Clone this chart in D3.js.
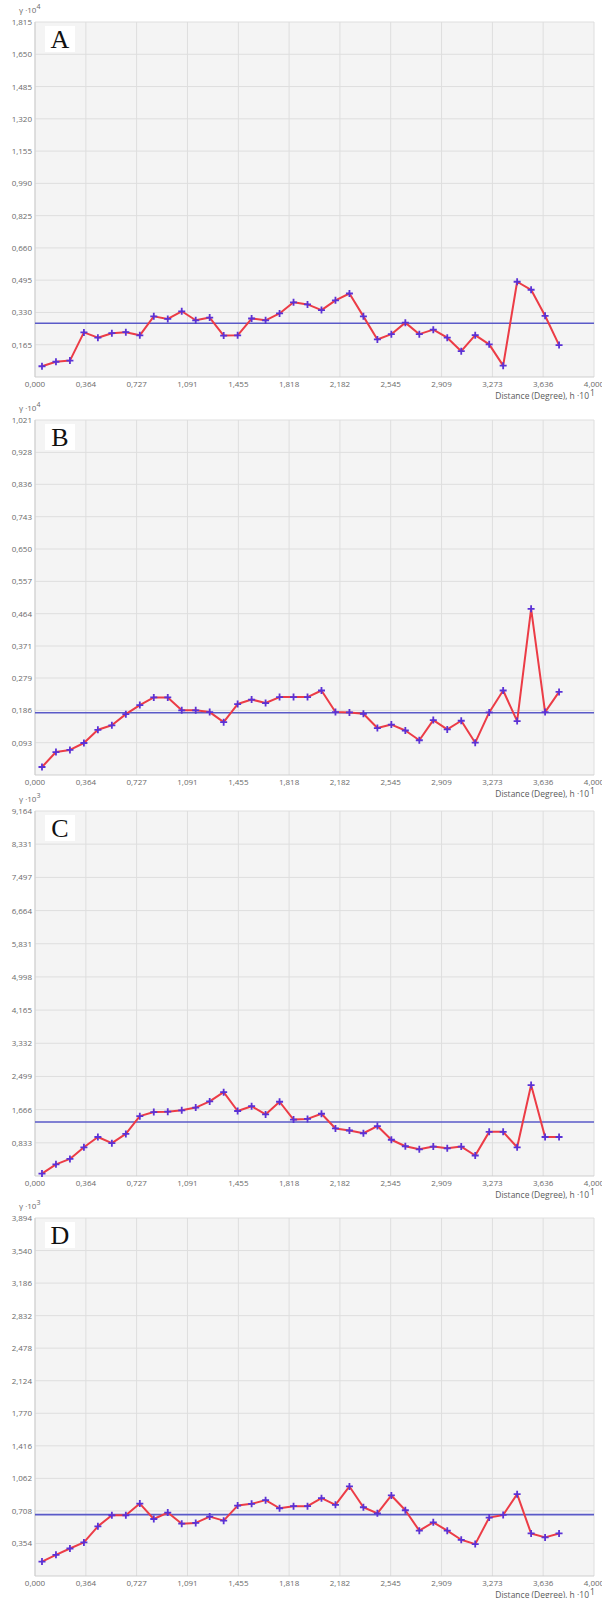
<!DOCTYPE html>
<html>
<head>
<meta charset="utf-8">
<script src="https://cdn.jsdelivr.net/npm/d3@7"></script>
<style>
  html, body { margin: 0; padding: 0; background: #ffffff; }
  svg { display: block; }
  .tick-label { font-family: "Open Sans", "DejaVu Sans", sans-serif; font-size: 8px; fill: #6a6a6a; }
  .axis-title { font-family: "Open Sans", "DejaVu Sans", sans-serif; font-size: 8.5px; fill: #5a5a5a; }
  .panel-letter { font-family: "Liberation Serif", "Times New Roman", serif; font-size: 26px; fill: #111; }
</style>
</head>
<body>
<svg id="chart" width="602" height="1598"></svg>
<script>
// Lag distances (h, ×10 degrees) shared by all four semivariograms
const lags = [0.05, 0.15, 0.25, 0.35, 0.45, 0.55, 0.65, 0.75, 0.85, 0.95,
              1.05, 1.15, 1.25, 1.35, 1.45, 1.55, 1.65, 1.75, 1.85, 1.95,
              2.05, 2.15, 2.25, 2.35, 2.45, 2.55, 2.65, 2.75, 2.85, 2.95,
              3.05, 3.15, 3.25, 3.35, 3.45, 3.55, 3.65, 3.75];

// Experimental semivariance per lag
const gammaA = [0.055, 0.078, 0.084, 0.228, 0.201, 0.224, 0.229, 0.213, 0.310, 0.297,
                0.336, 0.290, 0.304, 0.212, 0.213, 0.299, 0.290, 0.325, 0.382, 0.371,
                0.342, 0.392, 0.427, 0.310, 0.192, 0.219, 0.278, 0.219, 0.242, 0.201,
                0.132, 0.214, 0.167, 0.058, 0.487, 0.446, 0.313, 0.163];
const gammaB = [0.023, 0.066, 0.072, 0.092, 0.130, 0.143, 0.175, 0.201, 0.223, 0.223,
                0.186, 0.186, 0.181, 0.152, 0.204, 0.217, 0.207, 0.224, 0.224, 0.224,
                0.243, 0.181, 0.180, 0.176, 0.135, 0.145, 0.128, 0.100, 0.158, 0.131,
                0.156, 0.093, 0.180, 0.243, 0.155, 0.478, 0.181, 0.239];
const gammaC = [0.060, 0.292, 0.429, 0.721, 0.979, 0.824, 1.056, 1.503, 1.606, 1.614,
                1.649, 1.718, 1.872, 2.104, 1.632, 1.752, 1.546, 1.864, 1.417, 1.434,
                1.563, 1.194, 1.142, 1.073, 1.254, 0.910, 0.747, 0.670, 0.739, 0.696,
                0.739, 0.515, 1.108, 1.108, 0.721, 2.284, 0.979, 0.979];
const gammaD = [0.157, 0.230, 0.299, 0.365, 0.540, 0.661, 0.661, 0.788, 0.620, 0.690,
                0.569, 0.577, 0.646, 0.602, 0.766, 0.785, 0.825, 0.737, 0.759, 0.759,
                0.847, 0.774, 0.974, 0.748, 0.682, 0.876, 0.715, 0.493, 0.584, 0.493,
                0.394, 0.347, 0.635, 0.664, 0.890, 0.463, 0.420, 0.463];

// Sill (sample variance) lines
const sillA = 0.275;
const sillB = 0.179;
const sillC = 1.357;
const sillD = 0.668;

// Axis ticks
const xTicks = [0, 0.364, 0.727, 1.091, 1.455, 1.818, 2.182, 2.545, 2.909, 3.273, 3.636, 4.000];
const yTicksA = [0.165, 0.330, 0.495, 0.660, 0.825, 0.990, 1.155, 1.320, 1.485, 1.650, 1.815];
const yTicksB = [0.093, 0.186, 0.279, 0.371, 0.464, 0.557, 0.650, 0.743, 0.836, 0.928, 1.021];
const yTicksC = [0.833, 1.666, 2.499, 3.332, 4.165, 4.998, 5.831, 6.664, 7.497, 8.331, 9.164];
const yTicksD = [0.354, 0.708, 1.062, 1.416, 1.770, 2.124, 2.478, 2.832, 3.186, 3.540, 3.894];

// Panel letters and y-axis exponents
const panelLetters = ["A", "B", "C", "D"];
const yExponents = ["4", "4", "3", "3"];

const panels = [
  { letter: panelLetters[0], exp: yExponents[0], values: gammaA, sill: sillA, yTicks: yTicksA, top: 22,   bottom: 377 },
  { letter: panelLetters[1], exp: yExponents[1], values: gammaB, sill: sillB, yTicks: yTicksB, top: 420,  bottom: 775 },
  { letter: panelLetters[2], exp: yExponents[2], values: gammaC, sill: sillC, yTicks: yTicksC, top: 811,  bottom: 1176 },
  { letter: panelLetters[3], exp: yExponents[3], values: gammaD, sill: sillD, yTicks: yTicksD, top: 1218, bottom: 1576 }
];

const plotLeft = 35, plotRight = 594;
const fmt = v => d3.format(".3f")(v).replace(".", ",");

const svg = d3.select("#chart");

panels.forEach(p => {
  const x = d3.scaleLinear().domain([0, 4]).range([plotLeft, plotRight]);
  const y = d3.scaleLinear().domain([0, p.yTicks[p.yTicks.length - 1]]).range([p.bottom, p.top]);
  const g = svg.append("g");

  // plot background
  g.append("rect")
    .attr("x", plotLeft).attr("y", p.top)
    .attr("width", plotRight - plotLeft).attr("height", p.bottom - p.top)
    .attr("fill", "#f4f4f4");

  // vertical grid
  g.append("g").selectAll("line").data(xTicks).join("line")
    .attr("x1", d => x(d)).attr("x2", d => x(d))
    .attr("y1", p.top).attr("y2", p.bottom)
    .attr("stroke", "#dedede").attr("stroke-width", 1);

  // horizontal grid
  g.append("g").selectAll("line").data(p.yTicks).join("line")
    .attr("x1", plotLeft).attr("x2", plotRight)
    .attr("y1", d => y(d)).attr("y2", d => y(d))
    .attr("stroke", "#dedede").attr("stroke-width", 1);

  // axes lines
  g.append("line").attr("x1", plotLeft).attr("x2", plotLeft)
    .attr("y1", p.top).attr("y2", p.bottom).attr("stroke", "#cfcfcf");
  g.append("line").attr("x1", plotLeft).attr("x2", plotRight)
    .attr("y1", p.bottom).attr("y2", p.bottom).attr("stroke", "#cfcfcf");

  // y tick labels
  g.append("g").selectAll("text").data(p.yTicks).join("text")
    .attr("class", "tick-label")
    .attr("x", plotLeft - 3).attr("y", d => y(d) + 3)
    .attr("text-anchor", "end")
    .text(fmt);

  // x tick labels
  g.append("g").selectAll("text").data(xTicks).join("text")
    .attr("class", "tick-label")
    .attr("x", d => x(d)).attr("y", p.bottom + 10)
    .attr("text-anchor", "middle")
    .text(fmt);

  // y axis caption γ·10^n
  const yl = g.append("text").attr("class", "tick-label")
    .attr("x", 19).attr("y", p.top - 9);
  yl.append("tspan").text("γ ·10");
  yl.append("tspan").attr("dy", -4).attr("font-size", "7px").text(p.exp);

  // x axis caption with superscript exponent
  g.append("text").attr("class", "axis-title")
    .attr("x", plotRight - 5).attr("y", p.bottom + 21.5)
    .attr("text-anchor", "end")
    .text("Distance (Degree), h ·10");
  g.append("text").attr("class", "axis-title")
    .attr("x", plotRight - 4).attr("y", p.bottom + 19)
    .attr("font-size", "7.5px").text("1");

  // sill line
  g.append("line")
    .attr("x1", plotLeft).attr("x2", plotRight)
    .attr("y1", y(p.sill)).attr("y2", y(p.sill))
    .attr("stroke", "#5a5ac8").attr("stroke-width", 1.6);

  // semivariance polyline
  const pts = lags.map((h, i) => [h, p.values[i]]);
  g.append("path")
    .datum(pts)
    .attr("fill", "none")
    .attr("stroke", "#ec3c46")
    .attr("stroke-width", 2)
    .attr("stroke-linejoin", "round")
    .attr("d", d3.line().x(d => x(d[0])).y(d => y(d[1])));

  // cross markers
  g.append("g").selectAll("path").data(pts).join("path")
    .attr("transform", d => `translate(${x(d[0])},${y(d[1])})`)
    .attr("d", "M-3.5,0H3.5M0,-3.5V3.5")
    .attr("stroke", "#5b32d6").attr("stroke-width", 1.8);

  // panel letter box
  g.append("rect")
    .attr("x", 45).attr("y", p.top + 4)
    .attr("width", 30).attr("height", 26)
    .attr("fill", "#ffffff");
  g.append("text").attr("class", "panel-letter")
    .attr("x", 60).attr("y", p.top + 26)
    .attr("text-anchor", "middle")
    .text(p.letter);
});
</script>
</body>
</html>
